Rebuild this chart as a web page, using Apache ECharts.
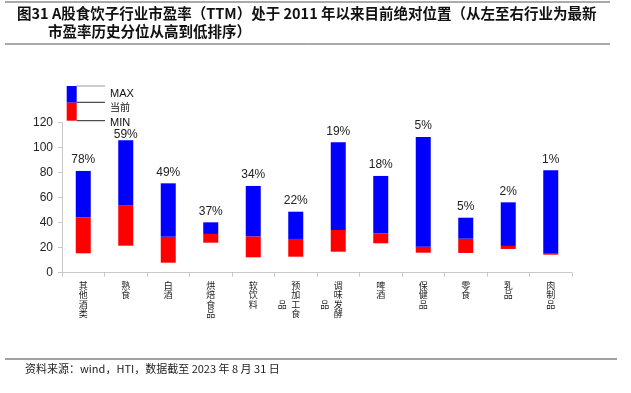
<!DOCTYPE html>
<html><head><meta charset="utf-8">
<script src="https://cdn.jsdelivr.net/npm/echarts@6/dist/echarts.min.js"></script>
<style>html,body{margin:0;padding:0;background:#fff}#c{width:631px;height:393px}</style>
</head><body><div id="c"></div>
<script>
const categories = ['其他酒类','熟食','白酒','烘焙食品','软饮料','预加工食品','调味发酵品','啤酒','保健品','零食','乳品','肉制品'];
const maxPE = [81.4, 106, 71.5, 40.3, 69.4, 48.8, 104.3, 77.4, 108.6, 44, 56.3, 81.9];
const curPE = [44.3, 54, 28.8, 31, 29.1, 27, 34.2, 31.5, 20.8, 27.2, 21.4, 15.8];
const minPE = [15.5, 21.6, 8, 24, 12.3, 12.8, 16.8, 23.5, 16, 15.8, 19, 14.4];
const pctLabels = ['78%','59%','49%','37%','34%','22%','19%','18%','5%','5%','2%','1%'];
const yTicks = [0, 20, 40, 60, 80, 100, 120];

const FONT = '"Noto Sans CJK SC", "Liberation Sans", sans-serif';

function vert(name){
  const chars = name.split('');
  if (chars.length <= 4) return chars.join('\n');
  const main = chars.slice(0,4), extra = chars.slice(4);
  return main.map((c,i) => (i===2 ? extra[0] : '\u3000') + '\u2002' + c + '\u3000\u2002').join('\n');
}

const chart = echarts.init(document.getElementById('c'), null, {renderer:'canvas'});
chart.setOption({
  animation:false,
  textStyle:{fontFamily:FONT},
  grid:{left:62, right:59, top:122.7, bottom:120.3, containLabel:false},
  xAxis:{type:'category', data:categories,
    axisLine:{lineStyle:{color:'#c8c8c8'}},
    axisTick:{show:true, length:4, lineStyle:{color:'#c8c8c8'}},
    axisLabel:{interval:0, margin:8, fontSize:9, lineHeight:9.5, color:'#222', fontFamily:FONT, verticalAlign:'top',
      formatter:v=>vert(v)}},
  yAxis:{type:'value', min:yTicks[0], max:yTicks[yTicks.length-1], interval:20,
    axisLine:{show:true, lineStyle:{color:'#c8c8c8'}},
    axisTick:{show:true, length:4, lineStyle:{color:'#c8c8c8'}},
    splitLine:{show:false},
    axisLabel:{fontSize:12, color:'#222', margin:9, fontFamily:'"Liberation Sans", Arial, sans-serif'}},
  series:[
    {type:'bar', stack:'s', data:minPE, barWidth:15, itemStyle:{color:'transparent'}, silent:true},
    {type:'bar', stack:'s', data:curPE.map((c,i)=>+(c-minPE[i]).toFixed(2)), barWidth:15, itemStyle:{color:'#ff0000'}},
    {type:'bar', stack:'s', barWidth:15, itemStyle:{color:'#0000ff'},
      data:maxPE.map((m,i)=>{
        const o = {value:+(m-curPE[i]).toFixed(2)};
        if (i===1) o.label = {distance:0};
        return o;
      }),
      label:{show:true, position:'top', distance:5, fontSize:12, color:'#222', fontFamily:'"Liberation Sans", Arial, sans-serif',
        formatter:p=>pctLabels[p.dataIndex]}}
  ],
  graphic:[
    {type:'line', shape:{x1:5,y1:2,x2:610,y2:2}, style:{stroke:'#555', lineWidth:1}},
    {type:'line', shape:{x1:5,y1:44,x2:610,y2:44}, style:{stroke:'#555', lineWidth:1}},
    {type:'line', shape:{x1:5,y1:359,x2:617,y2:359}, style:{stroke:'#444', lineWidth:1.2}},
    {type:'text', left:17, top:6, style:{text:'图31 A股食饮子行业市盈率（TTM）处于 2011 年以来目前绝对位置（从左至右行业为最新', font:'bold 14.5px '+FONT, fill:'#111'}},
    {type:'text', left:48, top:24, style:{text:'市盈率历史分位从高到低排序）', font:'bold 14.5px '+FONT, fill:'#111'}},
    {type:'text', left:25, top:363, style:{text:'资料来源：wind，HTI，数据截至 2023 年 8 月 31 日', font:'11px '+FONT, fill:'#222'}},
    {type:'rect', shape:{x:66.7,y:86,width:10,height:16.7}, style:{fill:'#0000ff'}},
    {type:'rect', shape:{x:66.7,y:102.7,width:10,height:18}, style:{fill:'#ff0000'}},
    {type:'line', shape:{x1:76.7,y1:86,x2:105,y2:86}, style:{stroke:'#999', lineWidth:1}},
    {type:'line', shape:{x1:76.7,y1:102.3,x2:105,y2:102.3}, style:{stroke:'#222', lineWidth:1}},
    {type:'line', shape:{x1:76.7,y1:120.7,x2:105,y2:120.7}, style:{stroke:'#222', lineWidth:1}},
    {type:'text', left:110, top:88, style:{text:'MAX', font:'11px "Liberation Sans", Arial', fill:'#111'}},
    {type:'text', left:110, top:102, style:{text:'当前', font:'10px '+FONT, fill:'#111'}},
    {type:'text', left:110, top:117, style:{text:'MIN', font:'11px "Liberation Sans", Arial', fill:'#111'}}
  ]
});
</script></body></html>
